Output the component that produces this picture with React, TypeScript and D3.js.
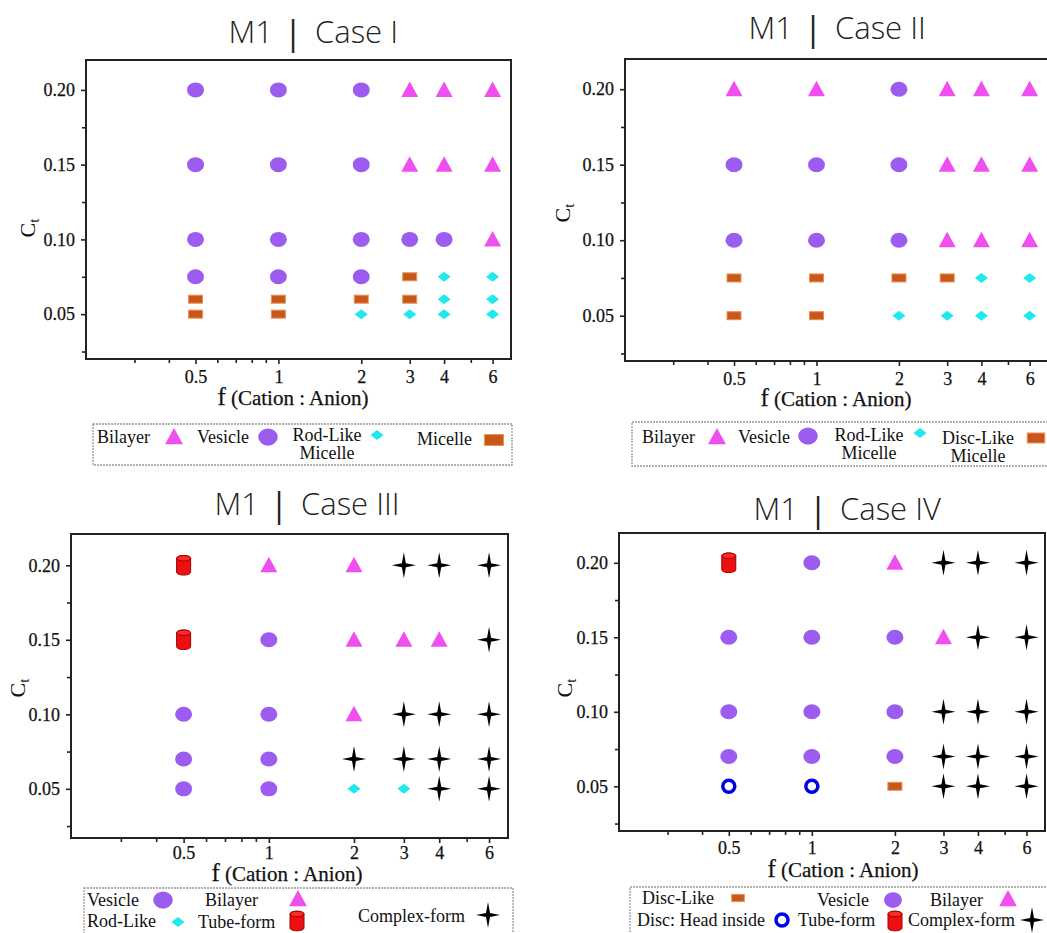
import React, { useEffect, useRef } from "react";
import * as d3 from "d3";

// phase codes: B bilayer, V vesicle, R rod-like micelle, M micelle / disc-like,
// T tube-form, C complex-form, H disc with head inside
type Phase = "B" | "V" | "R" | "M" | "T" | "C" | "H";

const fValues = [0.5, 1, 2, 3, 4, 6];
const fTickLabels = ["0.5", "1", "2", "3", "4", "6"];
const fMinorTicks = [0.3, 0.4, 0.6, 0.7, 0.8, 0.9, 5];
const ctTicks = [0.05, 0.1, 0.15, 0.2];
const ctMinorTicks = [0.025, 0.075, 0.125, 0.175];

const ctLevelsI = [0.2, 0.15, 0.1, 0.075, 0.06, 0.05];
const phasesI: Phase[][] = [
  ["V", "V", "V", "V", "M", "M"], // f = 0.5
  ["V", "V", "V", "V", "M", "M"], // f = 1
  ["V", "V", "V", "V", "M", "R"], // f = 2
  ["B", "B", "V", "M", "M", "R"], // f = 3
  ["B", "B", "V", "R", "R", "R"], // f = 4
  ["B", "B", "B", "R", "R", "R"], // f = 6
];

const ctLevelsII = [0.2, 0.15, 0.1, 0.075, 0.05];
const phasesII: Phase[][] = [
  ["B", "V", "V", "M", "M"],
  ["B", "V", "V", "M", "M"],
  ["V", "V", "V", "M", "R"],
  ["B", "B", "B", "M", "R"],
  ["B", "B", "B", "R", "R"],
  ["B", "B", "B", "R", "R"],
];

const ctLevelsIII = [0.2, 0.15, 0.1, 0.07, 0.05];
const phasesIII: Phase[][] = [
  ["T", "T", "V", "V", "V"],
  ["B", "V", "V", "V", "V"],
  ["B", "B", "B", "C", "R"],
  ["C", "B", "C", "C", "R"],
  ["C", "B", "C", "C", "C"],
  ["C", "C", "C", "C", "C"],
];

const ctLevelsIV = [0.2, 0.15, 0.1, 0.07, 0.05];
const phasesIV: Phase[][] = [
  ["T", "V", "V", "V", "H"],
  ["V", "V", "V", "V", "H"],
  ["B", "V", "V", "V", "M"],
  ["C", "B", "C", "C", "C"],
  ["C", "C", "C", "C", "C"],
  ["C", "C", "C", "C", "C"],
];

const COLORS = {
  vesicle: "#9d5cf0",
  bilayer: "#f04ff0",
  rod: "#1ee8f0",
  micelle: "#c9571b",
  micelleEdge: "#e8914f",
  tube: "#ee1010",
  tubeEdge: "#a00000",
  ring: "#0000e0",
};

const SERIF = "'Liberation Serif', 'Times New Roman', serif";
const SANS = "'Open Sans', 'Noto Sans', sans-serif";

interface LegendItem {
  lines: string[];
  tx: number;
  ty: number;
  anchor?: string;
  phase: Phase;
  mx: number;
  my: number;
  s?: number;
}

interface PanelConf {
  caseName: string;
  barX: number;
  titleY: number;
  left: number;
  right: number;
  top: number;
  bottom: number;
  yDomain: [number, number];
  levels: number[];
  phases: Phase[][];
  xPad: number;
  xLabel: [number, number];
  yLabel: [number, number];
  box: [number, number, number, number];
  legend: LegendItem[];
}

const panels: PanelConf[] = [
  {
    caseName: "Case I", barX: 293, titleY: 43,
    left: 86, right: 511, top: 60, bottom: 359, yDomain: [0.02, 0.22],
    levels: ctLevelsI, phases: phasesI, xPad: 6,
    xLabel: [293, 405], yLabel: [35, 228],
    box: [93, 424, 419, 41],
    legend: [
      { lines: ["Bilayer"], tx: 97, ty: 443, phase: "B", mx: 174, my: 437, s: 1.05 },
      { lines: ["Vesicle"], tx: 197, ty: 443, phase: "V", mx: 268, my: 437, s: 1.15 },
      { lines: ["Rod-Like", "Micelle"], tx: 327, ty: 441, anchor: "middle", phase: "R", mx: 377, my: 435 },
      { lines: ["Micelle"], tx: 417, ty: 445, phase: "M", mx: 494, my: 440, s: 1.35 },
    ],
  },
  {
    caseName: "Case II", barX: 813, titleY: 39,
    left: 625, right: 1048, top: 59, bottom: 361, yDomain: [0.02, 0.22],
    levels: ctLevelsII, phases: phasesII, xPad: 6,
    xLabel: [836, 406], yLabel: [570, 213],
    box: [632, 422, 430, 44],
    legend: [
      { lines: ["Bilayer"], tx: 642, ty: 443, phase: "B", mx: 717, my: 437, s: 1.05 },
      { lines: ["Vesicle"], tx: 738, ty: 443, phase: "V", mx: 808, my: 436, s: 1.15 },
      { lines: ["Rod-Like", "Micelle"], tx: 869, ty: 441, anchor: "middle", phase: "R", mx: 920, my: 433 },
      { lines: ["Disc-Like", "Micelle"], tx: 978, ty: 444, anchor: "middle", phase: "M", mx: 1036, my: 438, s: 1.25 },
    ],
  },
  {
    caseName: "Case III", barX: 279, titleY: 515,
    left: 71, right: 508, top: 534, bottom: 838, yDomain: [0.017, 0.221],
    levels: ctLevelsIII, phases: phasesIII, xPad: 3,
    xLabel: [287, 881], yLabel: [25, 688],
    box: [84, 888, 429, 50],
    legend: [
      { lines: ["Vesicle"], tx: 87, ty: 906, phase: "V", mx: 163, my: 900, s: 1.15 },
      { lines: ["Bilayer"], tx: 205, ty: 906, phase: "B", mx: 298, my: 899, s: 1.05 },
      { lines: ["Rod-Like"], tx: 87, ty: 927, phase: "R", mx: 178, my: 922 },
      { lines: ["Tube-form"], tx: 198, ty: 928, phase: "T", mx: 297, my: 921 },
      { lines: ["Complex-form"], tx: 358, ty: 922, phase: "C", mx: 488, my: 915 },
    ],
  },
  {
    caseName: "Case IV", barX: 818, titleY: 520,
    left: 619, right: 1045, top: 533, bottom: 831, yDomain: [0.02, 0.22],
    levels: ctLevelsIV, phases: phasesIV, xPad: 5,
    xLabel: [843, 877], yLabel: [572, 688],
    box: [630, 887, 430, 50],
    legend: [
      { lines: ["Disc-Like"], tx: 642, ty: 904, phase: "M", mx: 738, my: 898, s: 0.9 },
      { lines: ["Vesicle"], tx: 817, ty: 906, phase: "V", mx: 893, my: 900, s: 1.05 },
      { lines: ["Bilayer"], tx: 930, ty: 906, phase: "B", mx: 1008, my: 899, s: 1.05 },
      { lines: ["Disc: Head inside"], tx: 637, ty: 926, phase: "H", mx: 782, my: 920 },
      { lines: ["Tube-form"], tx: 798, ty: 926, phase: "T", mx: 895, my: 921 },
      { lines: ["Complex-form"], tx: 908, ty: 926, phase: "C", mx: 1032, my: 920 },
    ],
  },
];

function drawMarker(g: d3.Selection<SVGGElement, unknown, null, undefined>, phase: Phase, s = 1) {
  switch (phase) {
    case "V":
      g.append("ellipse").attr("rx", 8.5 * s).attr("ry", 7.5 * s).attr("fill", COLORS.vesicle);
      break;
    case "B":
      g.append("path")
        .attr("d", `M0,${-8.5 * s}L${8.5 * s},${7 * s}L${-8.5 * s},${7 * s}Z`)
        .attr("fill", COLORS.bilayer);
      break;
    case "R":
      g.append("path")
        .attr("d", `M0,${-5 * s}L${6.5 * s},0L0,${5 * s}L${-6.5 * s},0Z`)
        .attr("fill", COLORS.rod);
      break;
    case "M":
      g.append("rect")
        .attr("x", -7 * s).attr("y", -4 * s).attr("width", 14 * s).attr("height", 8 * s)
        .attr("fill", COLORS.micelle).attr("stroke", COLORS.micelleEdge).attr("stroke-width", 1);
      break;
    case "T": {
      const w = 7 * s, h = 7 * s, e = 2.8 * s;
      g.append("path")
        .attr("d", `M${-w},${-h}L${-w},${h}A${w},${e} 0 0 0 ${w},${h}L${w},${-h}A${w},${e} 0 0 0 ${-w},${-h}Z`)
        .attr("fill", COLORS.tube).attr("stroke", COLORS.tubeEdge).attr("stroke-width", 1);
      g.append("ellipse").attr("cy", -h).attr("rx", w).attr("ry", e)
        .attr("fill", "#ff2a2a").attr("stroke", COLORS.tubeEdge).attr("stroke-width", 1);
      break;
    }
    case "C": {
      const r = 12 * s, i = 2 * s;
      g.append("path")
        .attr("d", `M0,${-r - 1}L${i},${-i}L${r},0L${i},${i}L0,${r + 1}L${-i},${i}L${-r},0L${-i},${-i}Z`)
        .attr("fill", "#000");
      break;
    }
    case "H":
      g.append("circle").attr("r", 6 * s).attr("fill", "none")
        .attr("stroke", COLORS.ring).attr("stroke-width", 3.5);
      break;
  }
}

const App: React.FC = () => {
  const svgRef = useRef<SVGSVGElement | null>(null);

  useEffect(() => {
    if (!svgRef.current) return;
    const svg = d3.select(svgRef.current);
    svg.selectAll("*").remove();

    panels.forEach((p) => {
      const root = svg.append("g");

      const x = d3.scaleLog().domain([0.2, 7]).range([p.left, p.right]);
      const y = d3.scaleLinear().domain(p.yDomain).range([p.bottom, p.top]);

      // title
      const title = root.append("g").attr("font-family", SANS).attr("font-weight", 300)
        .attr("font-size", 31).attr("fill", "#222");
      title.append("text").attr("x", p.barX - 20).attr("y", p.titleY).attr("text-anchor", "end").text("M1");
      title.append("text").attr("x", p.barX).attr("y", p.titleY + 2).attr("text-anchor", "middle")
        .attr("font-weight", 400).attr("font-size", 34).text("|");
      title.append("text").attr("x", p.barX + 22).attr("y", p.titleY).text(p.caseName);

      // axes
      const yAxis = root.append("g").attr("transform", `translate(${p.left},0)`)
        .call(d3.axisLeft(y).tickValues(ctTicks).tickFormat(d3.format(".2f")).tickSize(5).tickPadding(6));
      const yMinor = root.append("g").attr("transform", `translate(${p.left},0)`)
        .call(d3.axisLeft(y).tickValues(ctMinorTicks).tickFormat(() => "").tickSize(4));
      const xAxis = root.append("g").attr("transform", `translate(0,${p.bottom})`)
        .call(d3.axisBottom(x).tickValues(fValues)
          .tickFormat((d, i) => fTickLabels[i]).tickSize(5).tickPadding(p.xPad));
      const xMinor = root.append("g").attr("transform", `translate(0,${p.bottom})`)
        .call(d3.axisBottom(x).tickValues(fMinorTicks).tickFormat(() => "").tickSize(4));

      [yAxis, yMinor, xAxis, xMinor].forEach((a) => {
        a.select(".domain").remove();
        a.selectAll(".tick line").attr("stroke", "#222").attr("stroke-width", 1.6);
        a.selectAll(".tick text").attr("font-family", SERIF).attr("font-size", 18)
          .attr("fill", "#111").attr("stroke", "#111").attr("stroke-width", 0.25);
      });

      root.append("rect")
        .attr("x", p.left).attr("y", p.top)
        .attr("width", p.right - p.left).attr("height", p.bottom - p.top)
        .attr("fill", "none").attr("stroke", "#222").attr("stroke-width", 2);

      // axis labels
      const xl = root.append("text").attr("x", p.xLabel[0]).attr("y", p.xLabel[1])
        .attr("text-anchor", "middle").attr("font-family", SERIF).attr("font-size", 21)
        .attr("fill", "#111").attr("stroke", "#111").attr("stroke-width", 0.25);
      xl.append("tspan").attr("font-size", 25).text("f");
      xl.append("tspan").text(" (Cation : Anion)");

      const yl = root.append("text")
        .attr("transform", `translate(${p.yLabel[0]},${p.yLabel[1]}) rotate(-90)`)
        .attr("text-anchor", "middle").attr("font-family", SERIF).attr("font-size", 22).attr("fill", "#111");
      yl.append("tspan").text("C");
      yl.append("tspan").attr("font-size", 15).attr("dy", 4).text("t");

      // points
      p.phases.forEach((col, i) => {
        col.forEach((ph, j) => {
          const g = root.append("g").attr("transform", `translate(${x(fValues[i])},${y(p.levels[j])})`);
          drawMarker(g, ph);
        });
      });

      // legend
      const [bx, by, bw, bh] = p.box;
      root.append("rect").attr("x", bx).attr("y", by).attr("width", bw).attr("height", bh)
        .attr("fill", "none").attr("stroke", "#999").attr("stroke-width", 1.3).attr("stroke-dasharray", "2,1");
      p.legend.forEach((it) => {
        const t = root.append("text").attr("x", it.tx).attr("y", it.ty)
          .attr("text-anchor", it.anchor ?? "start").attr("font-family", SERIF)
          .attr("font-size", 18).attr("fill", "#111");
        it.lines.forEach((ln, k) => {
          t.append("tspan").attr("x", it.tx).attr("dy", k === 0 ? 0 : 18).text(ln);
        });
        const g = root.append("g").attr("transform", `translate(${it.mx},${it.my})`);
        drawMarker(g, it.phase, it.s ?? 1);
      });
    });
  }, []);

  return (
    <svg
      ref={svgRef}
      width={1047}
      height={933}
      style={{ position: "absolute", left: 0, top: 0, background: "#fff" }}
    />
  );
};

export default App;
